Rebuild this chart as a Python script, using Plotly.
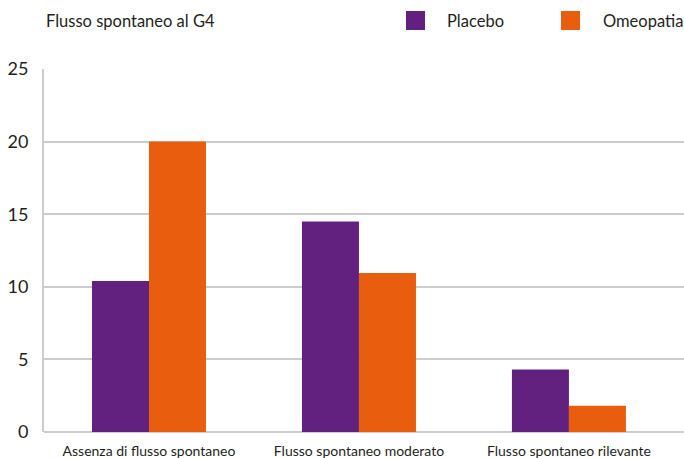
import plotly.graph_objects as go

# Spontaneous flow at G4, by group
categories = ["Assenza di flusso spontaneo", "Flusso spontaneo moderato", "Flusso spontaneo rilevante"]
placebo = [10.4, 14.5, 4.3]
omeopatia = [20.0, 10.95, 1.8]
y_ticks = [0, 5, 10, 15, 20, 25]

PURPLE = "#62207F"
ORANGE = "#E95D0E"
TEXT = "#231F20"
GRID = "#CCCCCC"
FONT = "Lato"

W, H = 684, 458
ML, MR, MT, MB = 44, 0, 69, 26
PW, PH = W - ML - MR, H - MT - MB


def px_x(px):
    return (px - ML) / PW


def px_y(py):
    return 1 + (MT - py) / PH


fig = go.Figure()
fig.add_trace(go.Bar(x=categories, y=placebo, name="Placebo", marker_color=PURPLE,
                     marker_line_width=0, showlegend=False))
fig.add_trace(go.Bar(x=categories, y=omeopatia, name="Omeopatia", marker_color=ORANGE,
                     marker_line_width=0, showlegend=False))

# header title and hand-placed legend
annotations = [
    dict(text="Flusso spontaneo al G4", x=px_x(44), y=px_y(21), xref="paper", yref="paper",
         xanchor="left", yanchor="middle", showarrow=False,
         font=dict(family=FONT, size=16.5, color=TEXT)),
    dict(text="Placebo", x=px_x(445), y=px_y(21), xref="paper", yref="paper",
         xanchor="left", yanchor="middle", showarrow=False,
         font=dict(family=FONT, size=16.5, color=TEXT)),
    dict(text="Omeopatia", x=px_x(601), y=px_y(21), xref="paper", yref="paper",
         xanchor="left", yanchor="middle", showarrow=False,
         font=dict(family=FONT, size=16.5, color=TEXT)),
]
shapes = [
    dict(type="rect", xref="paper", yref="paper", x0=px_x(406), x1=px_x(425),
         y0=px_y(30), y1=px_y(11), fillcolor=PURPLE, line_width=0),
    dict(type="rect", xref="paper", yref="paper", x0=px_x(561), x1=px_x(580),
         y0=px_y(30), y1=px_y(11), fillcolor=ORANGE, line_width=0),
]

fig.update_layout(
    width=W, height=H,
    margin=dict(l=ML, r=MR, t=MT, b=MB, pad=0),
    paper_bgcolor="white", plot_bgcolor="white",
    barmode="group", bargap=0.457, bargroupgap=0,
    annotations=annotations, shapes=shapes,
    font=dict(family=FONT, color=TEXT),
)
fig.update_xaxes(
    range=[-0.5, 2.548], showgrid=False, zeroline=False, showline=False,
    automargin=False,
    ticks="outside", ticklen=6, tickcolor="rgba(0,0,0,0)",
    tickfont=dict(family=FONT, size=14, color=TEXT),
)
fig.update_yaxes(
    range=[0, 25], tickvals=y_ticks, showgrid=True, gridcolor=GRID, gridwidth=2,
    zeroline=True, zerolinecolor=GRID, zerolinewidth=2,
    showline=True, linecolor=GRID, linewidth=2, automargin=False,
    ticks="outside", ticklen=10, tickcolor="rgba(0,0,0,0)",
    tickfont=dict(family=FONT, size=18, color=TEXT),
)

fig.write_html("out.html")
